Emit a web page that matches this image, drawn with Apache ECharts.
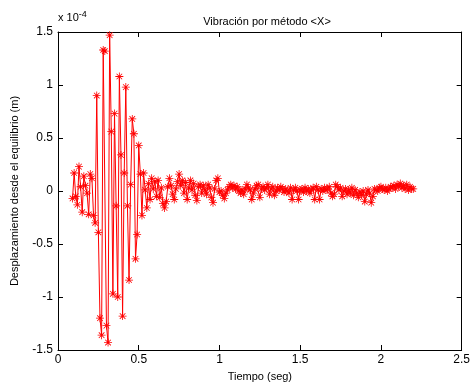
<!DOCTYPE html>
<html><head><meta charset="utf-8">
<script src="https://cdn.jsdelivr.net/npm/echarts@6/dist/echarts.min.js"></script>
<style>html,body{margin:0;padding:0;background:#fff}#c{width:473px;height:387px}</style>
</head><body><div id="c"></div>
<script>
const titleText = 'Vibración por método <X>';
const xLabel = 'Tiempo (seg)';
const yLabel = 'Desplazamiento desde el equilibrio (m)';
const xTicks = [0, 0.5, 1, 1.5, 2, 2.5];
const yTicks = [-1.5, -1, -0.5, 0, 0.5, 1, 1.5];
const times = [
 0.09,
 0.10,0.11,0.12,0.13,0.14,0.15,0.16,0.17,0.18,0.19,
 0.20,0.21,0.22,0.23,0.24,0.25,0.26,0.27,0.28,0.29,
 0.30,0.31,0.32,0.33,0.34,0.35,0.36,0.37,0.38,0.39,
 0.40,0.41,0.42,0.43,0.44,0.45,0.46,0.47,0.48,0.49,
 0.50,0.51,0.52,0.53,0.54,0.55,0.56,0.57,0.58,0.59,
 0.60,0.61,0.62,0.63,0.64,0.65,0.66,0.67,0.68,0.69,
 0.70,0.71,0.72,0.73,0.74,0.75,0.76,0.77,0.78,0.79,
 0.80,0.81,0.82,0.83,0.84,0.85,0.86,0.87,0.88,0.89,
 0.90,0.91,0.92,0.93,0.94,0.95,0.96,0.97,0.98,0.99,
 1.00,1.01,1.02,1.03,1.04,1.05,1.06,1.07,1.08,1.09,
 1.10,1.11,1.12,1.13,1.14,1.15,1.16,1.17,1.18,1.19,
 1.20,1.21,1.22,1.23,1.24,1.25,1.26,1.27,1.28,1.29,
 1.30,1.31,1.32,1.33,1.34,1.35,1.36,1.37,1.38,1.39,
 1.40,1.41,1.42,1.43,1.44,1.45,1.46,1.47,1.48,1.49,
 1.50,1.51,1.52,1.53,1.54,1.55,1.56,1.57,1.58,1.59,
 1.60,1.61,1.62,1.63,1.64,1.65,1.66,1.67,1.68,1.69,
 1.70,1.71,1.72,1.73,1.74,1.75,1.76,1.77,1.78,1.79,
 1.80,1.81,1.82,1.83,1.84,1.85,1.86,1.87,1.88,1.89,
 1.90,1.91,1.92,1.93,1.94,1.95,1.96,1.97,1.98,1.99,
 2.00,2.01,2.02,2.03,2.04,2.05,2.06,2.07,2.08,2.09,
 2.10,2.11,2.12,2.13,2.14,2.15,2.16,2.17,2.18,2.19,
 2.20
];
// displacement in units of 1e-4 m
const displacement = [
 -0.07,
 0.17,-0.05,-0.13,0.23,0.04,-0.20,0.14,0.05,-0.02,-0.22,
 0.16,0.12,-0.23,-0.30,0.90,-0.39,-1.20,-1.36,1.33,1.32,
 -1.27,-1.43,1.47,0.56,-0.97,0.73,-0.14,-1.00,1.08,0.34,
 -1.18,0.17,0.98,-0.14,-0.84,0.06,0.68,0.54,-0.64,-0.41,
 0.43,0.16,-0.23,0.17,0.01,-0.16,0.07,-0.08,0.12,0.02,
 0.09,-0.05,0.10,-0.06,0.03,-0.12,-0.16,-0.10,0.04,0.12,
 0.05,-0.03,-0.08,0.02,0.09,0.16,0.05,0.10,-0.02,0.08,
 -0.08,0.03,0.10,0.01,0.07,-0.04,-0.09,0.04,0.06,-0.02,
 0.05,0.01,-0.03,0.06,0.03,-0.06,-0.11,0.02,0.10,0.12,
 -0.01,0.00,-0.04,-0.07,-0.02,0.01,0.04,0.06,0.03,0.05,
 0.02,0.04,0.00,-0.02,0.01,-0.03,0.02,0.06,0.03,0.01,
 -0.08,-0.02,0.02,0.05,0.06,-0.06,0.02,0.04,0.01,0.03,
 0.06,-0.03,0.02,0.04,-0.04,0.00,0.03,0.01,0.04,0.02,
 -0.01,0.02,0.00,-0.02,0.03,-0.08,0.01,0.03,0.00,-0.08,
 0.01,0.02,-0.01,0.03,0.00,0.02,-0.02,0.01,0.03,-0.08,
 0.04,0.01,-0.08,0.02,0.00,0.03,0.01,0.02,0.04,-0.02,
 -0.05,-0.03,0.06,0.04,0.01,0.03,-0.05,0.00,0.02,-0.03,
 0.01,-0.02,0.03,-0.04,0.01,-0.02,-0.06,-0.01,-0.04,0.00,
 -0.10,-0.03,0.01,-0.02,-0.11,-0.05,0.02,0.01,0.00,0.03,
 0.04,0.02,0.01,0.03,0.00,0.02,0.04,0.03,0.05,0.02,
 0.06,0.04,0.07,0.03,0.05,0.02,0.06,0.01,0.04,0.02,
 0.02
];

const font = "'Liberation Sans', Arial, Helvetica, sans-serif";
const axisCol = '#000';
const star = 'path://M0 9H20V11H0Z M9 0H11V20H9Z M2.3 3.7L3.7 2.3L17.7 16.3L16.3 17.7Z M16.3 2.3L17.7 3.7L3.7 17.7L2.3 16.3Z';

const chart = echarts.init(document.getElementById('c'), null, {renderer: 'canvas'});
const axLine = {show: true, onZero: false, lineStyle: {color: axisCol, width: 1}};
const axTick = {show: true, inside: true, length: 5, lineStyle: {color: axisCol}};
chart.setOption({
  animation: false,
  backgroundColor: '#fff',
  title: {
    text: titleText, left: 262, top: 11, textAlign: 'center',
    textStyle: {fontFamily: font, fontSize: 11, fontWeight: 'normal', color: '#000'}
  },
  grid: {left: 58, right: 7, top: 32, bottom: 33, containLabel: false},
  xAxis: [
    {
      type: 'value', position: 'bottom', min: 0, max: 2.5, interval: 0.5,
      axisLine: axLine, axisTick: axTick, splitLine: {show: false},
      name: xLabel, nameLocation: 'middle', nameGap: 21,
      nameTextStyle: {fontFamily: font, fontSize: 11, color: '#000'},
      axisLabel: {fontFamily: font, fontSize: 12, color: '#000', margin: 4,
        formatter: v => String(v)}
    },
    {
      type: 'value', position: 'top', min: 0, max: 2.5, interval: 0.5,
      axisLine: axLine, axisTick: axTick, splitLine: {show: false},
      axisLabel: {show: false}
    }
  ],
  yAxis: [
    {
      type: 'value', position: 'left', min: -1.5, max: 1.5, interval: 0.5,
      axisLine: axLine, axisTick: axTick, splitLine: {show: false},
      axisLabel: {fontFamily: font, fontSize: 12, color: '#000', margin: 5,
        formatter: v => String(v)},
      name: yLabel, nameLocation: 'middle', nameGap: 38, nameRotate: 90,
      nameTextStyle: {fontFamily: font, fontSize: 11, color: '#000'}
    },
    {
      type: 'value', position: 'right', min: -1.5, max: 1.5, interval: 0.5,
      axisLine: axLine, axisTick: axTick, splitLine: {show: false},
      axisLabel: {show: false}
    }
  ],
  graphic: [{
    type: 'text', left: 58, top: 10,
    style: {
      text: 'x 10{sup|-4}', fontFamily: font, fontSize: 11, fill: '#000',
      rich: {sup: {fontSize: 9, fontFamily: font, verticalAlign: 'top', padding: [0,0,6,0]}}
    }
  }],
  series: [{
    type: 'line', xAxisIndex: 0, yAxisIndex: 0,
    data: times.map((t, i) => [t, displacement[i]]),
    lineStyle: {color: '#ff0000', width: 1},
    itemStyle: {color: '#ff0000'},
    symbol: star, symbolSize: 8, showAllSymbol: true,
    smooth: false
  }]
});
</script>
</body></html>
